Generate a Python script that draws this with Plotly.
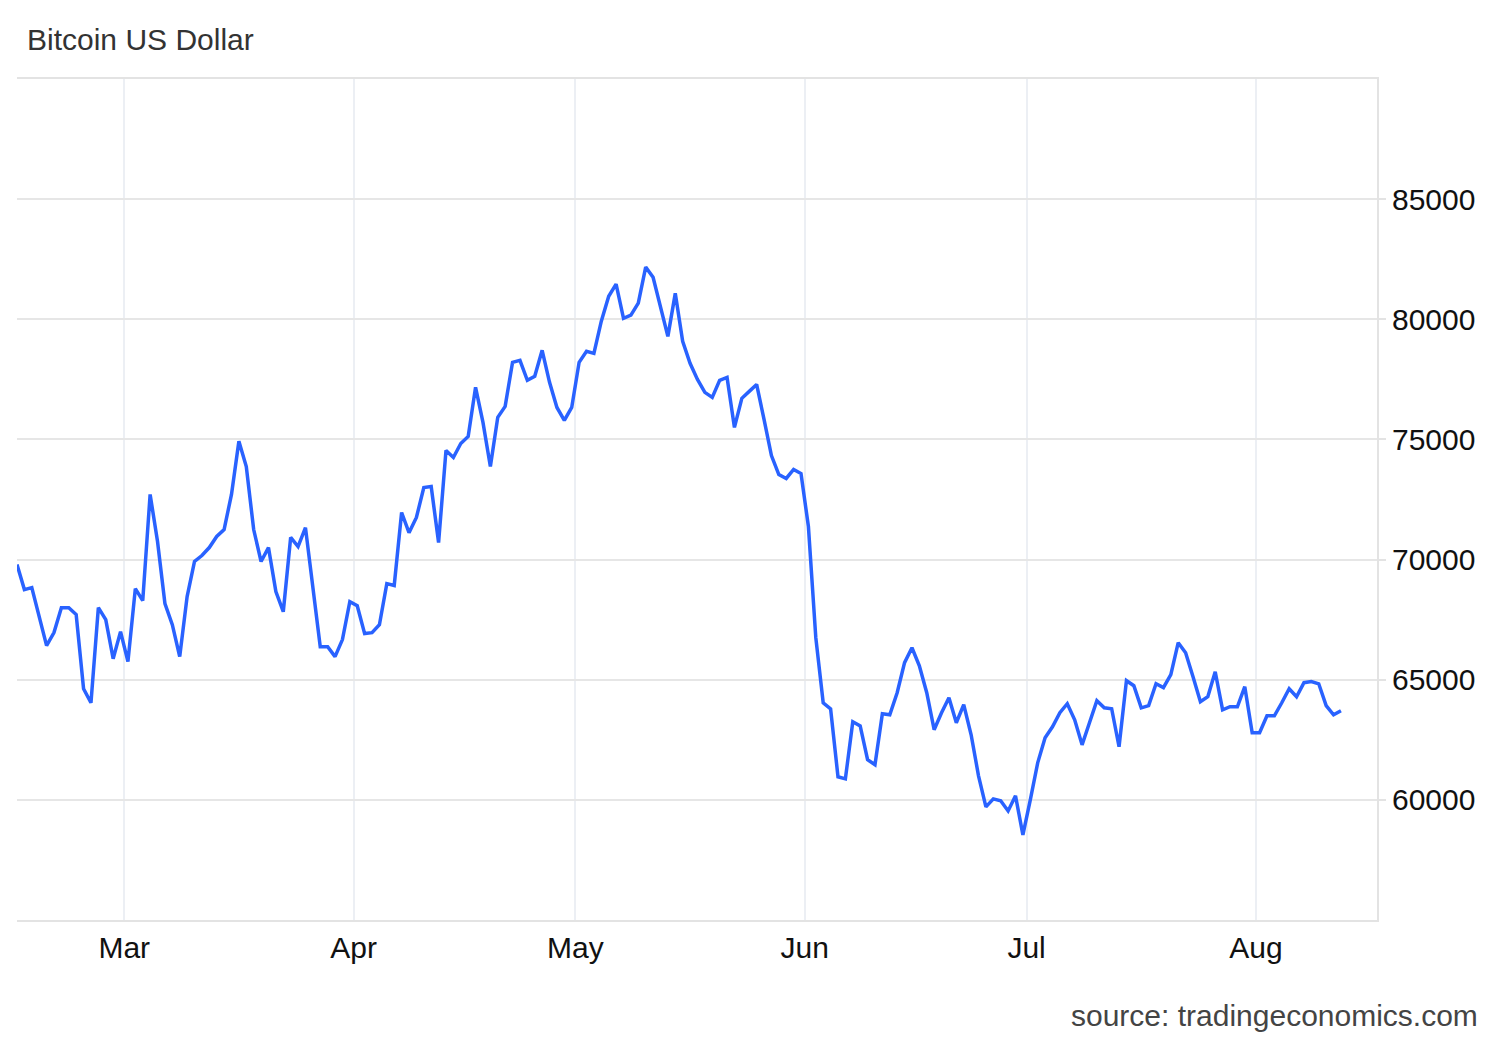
import pandas as pd
import plotly.graph_objects as go

# daily closes, 15 Feb -> 12 Aug 2024
start_date = "2024-02-15 12:00"
prices = [
    69790, 68750, 68830, 67625, 66420, 66960, 68000, 68000, 67710, 64625,
    64040, 68000, 67500, 65875, 67000, 65750, 68790, 68290, 72710, 70750,
    68170, 67290, 65960, 68460, 69920, 70170, 70500, 70960, 71250, 72710,
    74920, 73870, 71250, 69920, 70500, 68670, 67830, 70920, 70540, 71330,
    68830, 66375, 66375, 65960, 66670, 68250, 68080, 66920, 66960, 67290,
    69000, 68920, 71960, 71120, 71750, 73000, 73040, 70710, 74540, 74250,
    74830, 75125, 77170, 75710, 73870, 75920, 76375, 78210, 78290, 77460,
    77625, 78710, 77375, 76330, 75790, 76330, 78210, 78670, 78580, 79920,
    80960, 81460, 80040, 80170, 80670, 82170, 81750, 80540, 79290, 81080,
    79080, 78170, 77500, 76960, 76750, 77460, 77580, 75500, 76710, 77000,
    77290, 75830, 74330, 73540, 73375, 73750, 73580, 71375, 66750, 64040,
    63790, 60960, 60875, 63250, 63080, 61670, 61460, 63580, 63540, 64460,
    65710, 66330, 65580, 64460, 62920, 63625, 64250, 63210, 63960, 62710,
    61000, 59710, 60040, 59960, 59540, 60170, 58540, 60000, 61540, 62580,
    63040, 63625, 64000, 63330, 62290, 63210, 64125, 63830, 63790, 62210,
    64960, 64750, 63830, 63920, 64830, 64670, 65210, 66540, 66125, 65125,
    64080, 64290, 65330, 63750, 63875, 63875, 64710, 62790, 62790, 63500,
    63500, 64040, 64625, 64290, 64875, 64920, 64830, 63920, 63540, 63710,
]
dates = pd.date_range(start_date, periods=len(prices), freq="D")

y_ticks = [60000, 65000, 70000, 75000, 80000, 85000]

fig = go.Figure()
fig.add_trace(go.Scatter(
    x=dates, y=prices,
    mode="lines",
    line=dict(color="#2962ff", width=3.5),
    hoverinfo="x+y",
))

# page body adds 8px, so the figure is a little smaller than the window
fig.update_layout(
    width=1492, height=1032,
    margin=dict(l=9, r=123, t=71, b=120),
    paper_bgcolor="white",
    plot_bgcolor="white",
    showlegend=False,
    font=dict(family="Liberation Sans, Arial, sans-serif", size=30, color="#111"),
)

fig.update_xaxes(
    range=["2024-02-15 12:00", "2024-08-17 09:00"],
    dtick="M1",
    tick0="2024-03-01",
    tickformat="%b",
    showgrid=True, gridcolor="#eceff4", gridwidth=1.5,
    showline=True, linecolor="#e3e3e3", linewidth=2, mirror=True,
    ticks="", zeroline=False,
    tickfont=dict(size=30, color="#111"),
)

fig.update_yaxes(
    range=[55000, 90000],
    side="right",
    tickvals=y_ticks,
    ticktext=[str(v) for v in y_ticks],
    showgrid=True, gridcolor="#e6e6e6", gridwidth=1.5,
    showline=True, linecolor="#e3e3e3", linewidth=2,
    ticks="outside", ticklen=7, tickcolor="#e3e3e3", tickwidth=2,
    zeroline=False,
    tickfont=dict(size=30, color="#111"),
)

# title and source
fig.add_annotation(
    text="Bitcoin US Dollar", xref="paper", yref="paper",
    x=0.006, y=1.047, xanchor="left", yanchor="middle",
    showarrow=False, font=dict(size=30, color="#333"),
)
fig.add_annotation(
    text="source: tradingeconomics.com", xref="paper", yref="paper",
    x=1.076, y=-0.114, xanchor="right", yanchor="middle",
    showarrow=False, font=dict(size=30, color="#444"),
)

fig.write_html("out.html")
